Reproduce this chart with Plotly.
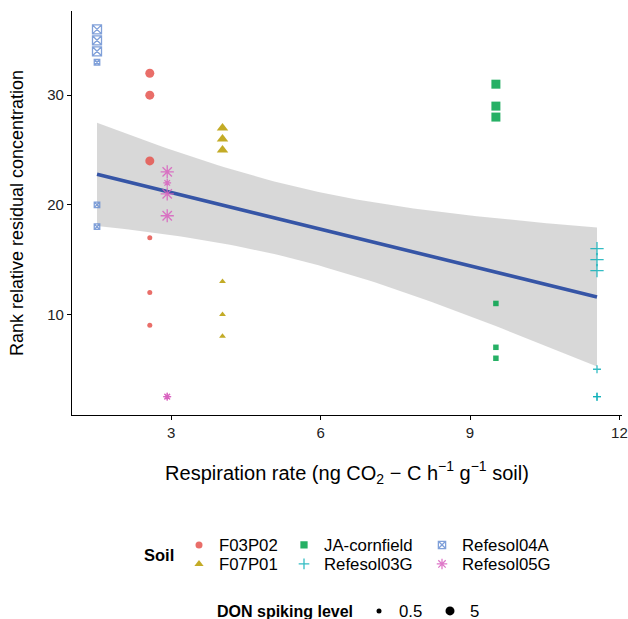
import numpy as np
import plotly.graph_objects as go

# ---------------- data ----------------
soils = ["F03P02", "F07P01", "JA-cornfield", "Refesol03G", "Refesol04A", "Refesol05G"]
resp_rate = {"F03P02": 2.57, "F07P01": 4.03, "JA-cornfield": 9.52,
             "Refesol03G": 11.55, "Refesol04A": 1.51, "Refesol05G": 2.92}
rank_high = {"F03P02": [32, 30, 24], "F07P01": [27, 26, 25], "JA-cornfield": [31, 29, 28],
             "Refesol03G": [16, 15, 14], "Refesol04A": [36, 35, 34], "Refesol05G": [23, 21, 19]}
rank_low = {"F03P02": [17, 12, 9], "F07P01": [13, 10, 8], "JA-cornfield": [11, 7, 6],
            "Refesol03G": [5, 2.5, 2.5], "Refesol04A": [33, 20, 18], "Refesol05G": [22, 2.5, 2.5]}
don_levels = ["0.5", "5"]
x_ticks = [3, 6, 9, 12]
y_ticks = [10, 20, 30]

# ---------------- styles ----------------
colors = {"F03P02": "#E5554F", "F07P01": "#B89C00", "JA-cornfield": "#00A24A",
          "Refesol03G": "#0FB0B8", "Refesol04A": "#6A8FD2", "Refesol05G": "#D860BE"}
symbols = {"F03P02": "circle", "F07P01": "triangle-up", "JA-cornfield": "square",
           "Refesol03G": "cross-thin-open", "Refesol04A": "square-x-open",
           "Refesol05G": "asterisk-open"}
size_hi = {"F03P02": 9, "F07P01": 10, "JA-cornfield": 9, "Refesol03G": 9.5,
           "Refesol04A": 9, "Refesol05G": 11}
size_lo = {"F03P02": 5, "F07P01": 6, "JA-cornfield": 5.5, "Refesol03G": 5.7,
           "Refesol04A": 5.5, "Refesol05G": 6.5}

FONT = "Liberation Sans, Arial, sans-serif"
L, R, T, B = 72, 6, 11, 204
W, H = 628, 619
PW, PH = W - L - R, H - T - B


def px(xp):
    return (xp - L) / PW


def py(yp):
    return (H - B - yp) / PH


# legend slot per soil: (marker centre x, row centre y) in pixels
legend_pos = {"F03P02": (198, 545), "F07P01": (198, 564),
              "JA-cornfield": (303, 545), "Refesol03G": (303, 564),
              "Refesol04A": (441, 545), "Refesol05G": (441, 564)}
don_pos = {"0.5": (378, 611), "5": (449, 611)}

fig = go.Figure()

# ---------------- regression with 95% CI ----------------
xs, ys = [], []
for s in soils:
    for v in rank_high[s] + rank_low[s]:
        xs.append(resp_rate[s]); ys.append(v)
xs = np.array(xs, dtype=float); ys = np.array(ys, dtype=float)
n = len(xs)
b1, b0 = np.polyfit(xs, ys, 1)
resid = ys - (b0 + b1 * xs)
sigma = np.sqrt(np.sum(resid ** 2) / (n - 2))
xbar = xs.mean(); sxx = np.sum((xs - xbar) ** 2)
tval = 2.032  # t(0.975, df=34)
xg = np.linspace(xs.min(), xs.max(), 80)
yg = b0 + b1 * xg
se = sigma * np.sqrt(1.0 / n + (xg - xbar) ** 2 / sxx)
lo = yg - tval * se
hi = yg + tval * se

fig.add_trace(go.Scatter(x=np.concatenate([xg, xg[::-1]]).tolist(),
                         y=np.concatenate([hi, lo[::-1]]).tolist(),
                         fill="toself", fillcolor="rgba(153,153,153,0.38)", line=dict(width=0),
                         mode="lines", showlegend=False, hoverinfo="skip"))
fig.add_trace(go.Scatter(x=xg.tolist(), y=yg.tolist(), mode="lines",
                         line=dict(color="#3655A6", width=3.6),
                         showlegend=False, hoverinfo="skip"))

leg_common = dict(yanchor="middle", xanchor="left",
                  bgcolor="rgba(0,0,0,0)", font=dict(family=FONT, size=16.8, color="black"),
                  itemwidth=30, tracegroupgap=0)
legends = {}

# ---------------- points ----------------
for i, s in enumerate(soils):
    yv = rank_high[s] + rank_low[s]
    xv = [resp_rate[s]] * len(yv)
    sz = [size_hi[s]] * len(rank_high[s]) + [size_lo[s]] * len(rank_low[s])
    line_based = symbols[s] in ("cross-thin-open", "square-x-open", "asterisk-open")
    lid = "legend" if i == 0 else f"legend{i + 1}"
    mx, my = legend_pos[s]
    legends[lid] = dict(x=px(mx - 19), y=py(my), **leg_common)
    fig.add_trace(go.Scatter(
        x=xv, y=yv, mode="markers", name=s, legend=lid,
        marker=dict(symbol=symbols[s], size=sz, color=colors[s], opacity=0.85,
                    line=dict(color=colors[s], width=1.3 if line_based else 0)),
    ))

# DON size legend
for j, (lvl, sz) in enumerate(zip(don_levels, [5, 9])):
    lid = f"legend{len(soils) + j + 1}"
    mx, my = don_pos[lvl]
    legends[lid] = dict(x=px(mx - 19), y=py(my), **leg_common)
    fig.add_trace(go.Scatter(x=[None], y=[None], mode="markers", name=lvl, legend=lid,
                             marker=dict(symbol="circle", size=sz, color="black")))

# ---------------- axes ----------------
xmin, xmax = float(xs.min()), float(xs.max()); xr = xmax - xmin
ymin, ymax = float(ys.min()), float(ys.max()); yr = ymax - ymin
axis_common = dict(showline=True, linecolor="black", linewidth=1.1, ticks="outside",
                   ticklen=4, tickcolor="black", tickwidth=1.1, showgrid=False, zeroline=False,
                   automargin=False,
                   tickfont=dict(family=FONT, size=15, color="#222222"))
fig.update_xaxes(range=[xmin - 0.05 * xr, xmax + 0.05 * xr], tickvals=x_ticks, **axis_common,
                 title=dict(text="Respiration rate (ng CO<sub>2</sub> − C h<sup>−1</sup> g<sup>−1</sup> soil)",
                            font=dict(family=FONT, size=20, color="black"), standoff=25))
fig.update_yaxes(range=[ymin - 0.05 * yr, ymax + 0.05 * yr], tickvals=y_ticks, **axis_common,
                 title=dict(text="Rank relative residual concentration",
                            font=dict(family=FONT, size=18, color="black"), standoff=18))

fig.update_layout(
    width=W, height=H,
    margin=dict(l=L, r=R, t=T, b=B, autoexpand=False),
    plot_bgcolor="white", paper_bgcolor="white",
    font=dict(family=FONT),
    annotations=[
        dict(text="<b>Soil</b>", xref="paper", yref="paper", x=px(159), y=py(555),
             xanchor="center", yanchor="middle", showarrow=False,
             font=dict(family=FONT, size=16.5, color="black")),
        dict(text="<b>DON spiking level</b>", xref="paper", yref="paper", x=px(285), y=py(611),
             xanchor="center", yanchor="middle", showarrow=False,
             font=dict(family=FONT, size=16, color="black")),
    ],
    **legends,
)

fig.write_html("out.html")
